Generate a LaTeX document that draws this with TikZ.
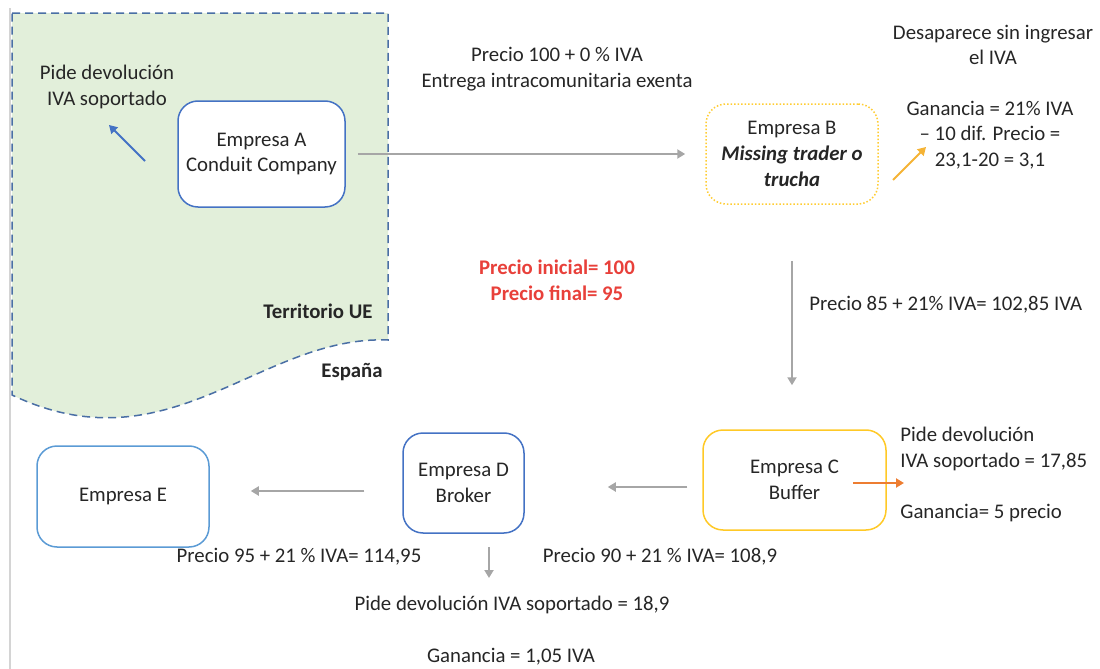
\documentclass[tikz,border=0pt]{standalone}
\usepackage{fontspec}
\setmainfont{Carlito}
\usetikzlibrary{arrows.meta,calc}
\definecolor{txt}{HTML}{262626}
\definecolor{euGreen}{HTML}{E2EFDA}
\definecolor{euDash}{HTML}{4A6FA5}
\definecolor{boxBlue}{HTML}{4472C4}
\definecolor{boxLight}{HTML}{5B9BD5}
\definecolor{boxYellow}{HTML}{FFC000}
\definecolor{arrGray}{HTML}{A6A6A6}
\definecolor{arrOrange}{HTML}{ED7D31}
\definecolor{arrYellow}{HTML}{F5B335}
\definecolor{redTxt}{HTML}{E8403A}
\definecolor{edgeGray}{HTML}{D4D4D4}
\tikzset{
  company/.style={draw, line width=0.75pt, rounded corners=10pt, fill=white, align=center, text=txt, inner sep=2pt},
  label/.style={align=center, text=txt, inner sep=0pt},
  flow/.style={draw=arrGray, line width=1pt, -{Triangle[length=4pt,width=4.5pt]}},
  note/.style={line width=1pt, -{Triangle[length=4pt,width=4.5pt]}}
}
\begin{document}
\begin{tikzpicture}[x=0.5pt,y=-0.5pt,font=\fontsize{10.4}{12.8}\selectfont]
\useasboundingbox (0,0) rectangle (1100,669);
% left edge line
\draw[edgeGray, line width=0.8pt] (10,8) -- (10,669);
% EU territory
\draw[euDash, fill=euGreen, line width=0.75pt, dash pattern=on 4pt off 2.5pt]
  (12,13) -- (388,13) -- (388,340) .. controls (260,335) and (170,470) .. (12,395) -- cycle;
\node[label, font=\fontsize{10.4}{12.8}\selectfont\bfseries, anchor=east] (terr) at (373,311) {Territorio UE};
\node[label, font=\fontsize{10.4}{12.8}\selectfont\bfseries] (esp) at (352,372) {España};

% companies
\node[company, draw=boxBlue, minimum width=83.5pt, minimum height=53pt] (A) at (261.5,154) {Empresa A\\Conduit Company};
\node[company, draw=boxYellow!80, densely dotted, minimum width=86pt, minimum height=50pt] (B) at (792,154) {Empresa B\\\textbf{\textit{Missing trader o}}\\\textbf{\textit{trucha}}};
\node[company, draw=boxYellow!85, minimum width=91.5pt, minimum height=50pt] (C) at (794.5,480) {Empresa C\\Buffer};
\node[company, draw=boxBlue, minimum width=60.5pt, minimum height=50pt] (D) at (463.5,483) {Empresa D\\Broker};
\node[company, draw=boxLight, minimum width=86pt, minimum height=50.5pt] (E) at (123,496.5) {Empresa E};

% texts
\node[label] (pideA) at (107,87) {Pide devolución\\IVA soportado};
\node[label] (precAB) at (557,69) {Precio 100 + 0 \% IVA\\Entrega intracomunitaria exenta};
\node[label] (desap) at (993,45) {Desaparece sin ingresar\\el IVA};
\node[label] (ganB) at (990,135) {Ganancia = 21\% IVA\\– 10 dif. Precio =\\23,1-20 = 3,1};
\node[label, text=redTxt, font=\fontsize{10.4}{12.8}\selectfont\bfseries] (precIF) at (557,280) {Precio inicial= 100\\Precio final= 95};
\node[label, anchor=west] (precBC) at (809,305) {Precio 85 + 21\% IVA= 102,85 IVA};
\node[label, anchor=west, align=left] (pideC) at (900,449) {Pide devolución\\IVA soportado = 17,85};
\node[label, anchor=west] (ganC) at (900,513) {Ganancia= 5 precio};
\node[label] (precDE) at (299,557) {Precio 95 + 21 \% IVA= 114,95};
\node[label] (precCD) at (660,557) {Precio 90 + 21 \% IVA= 108,9};
\node[label] (pideD) at (512,605) {Pide devolución IVA soportado = 18,9};
\node[label] (ganD) at (511,657) {Ganancia = 1,05 IVA};

% flows
\draw[flow, shorten <=6pt, shorten >=10pt] (A.east) -- (B.west);
\draw[flow, shorten <=28pt, shorten >=22pt] (B.south) -- (B.south |- C.north);
\draw[flow, shorten <=7.5pt, shorten >=41.5pt] ([yshift=-3.5pt]C.west) -- ([yshift=-3.5pt]C.west -| D.east);
\draw[flow, shorten <=19pt, shorten >=20.5pt] ([yshift=-4pt]D.west) -- ([yshift=-4pt]D.west -| E.east);
\coordinate (Dout) at (489,547);
\coordinate (Dend) at (489,578);
\draw[flow] (Dout) -- (Dend);

% side notes arrows
\coordinate (blueS) at (145,161);
\coordinate (blueE) at (109,125);
\draw[note, draw=boxBlue] (blueS) -- (blueE);
\coordinate (yelS) at (893,180);
\coordinate (yelE) at (926,147);
\draw[note, draw=arrYellow] (yelS) -- (yelE);
\coordinate (orS) at (853,483);
\coordinate (orE) at (904,483);
\draw[note, draw=arrOrange] (orS) -- (orE);
\end{tikzpicture}
\end{document}
